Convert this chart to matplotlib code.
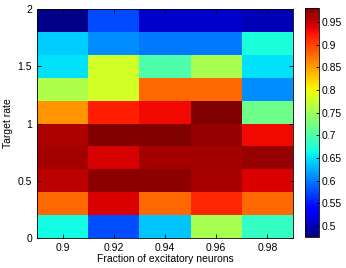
import matplotlib
matplotlib.use('Agg')
import matplotlib.pyplot as plt
import numpy as np

# fraction of excitatory neurons (column centres) and target rate (row edges)
frac = [0.9, 0.92, 0.94, 0.96, 0.98]
rate_edges = [0, 0.2, 0.4, 0.6, 0.8, 1.0, 1.2, 1.4, 1.6, 1.8, 2.0]

# rows from target rate 0.1 (bottom) up to 1.9 (top)
row_01 = [0.665, 0.577, 0.637, 0.755, 0.685]
row_03 = [0.880, 0.940, 0.880, 0.915, 0.880]
row_05 = [0.955, 0.975, 0.975, 0.962, 0.940]
row_07 = [0.965, 0.943, 0.965, 0.965, 0.970]
row_09 = [0.960, 0.980, 0.980, 0.970, 0.930]
row_11 = [0.855, 0.918, 0.930, 0.980, 0.720]
row_13 = [0.760, 0.780, 0.880, 0.880, 0.610]
row_15 = [0.650, 0.780, 0.700, 0.755, 0.650]
row_17 = [0.640, 0.610, 0.600, 0.600, 0.670]
row_19 = [0.480, 0.575, 0.510, 0.510, 0.500]

vals = np.array([row_01, row_03, row_05, row_07, row_09,
                 row_11, row_13, row_15, row_17, row_19])

plt.rcParams['font.family'] = ['Liberation Sans', 'DejaVu Sans']
plt.rcParams['font.size'] = 7.5

fig = plt.figure(figsize=(3.46, 2.68), dpi=100)
ax = fig.add_axes([37/346, 1 - 238/268, 256/346, 229/268])
cax = fig.add_axes([305/346, 1 - 237/268, 14/346, 229/268])

x_edges = [f - 0.01 for f in frac] + [frac[-1] + 0.01]
mesh = ax.pcolormesh(x_edges, rate_edges, vals, cmap='jet', vmin=0.476, vmax=0.981)

ax.set_xlim(0.89, 0.99)
ax.set_ylim(0, 2)
ax.set_xticks(frac)
ax.set_xticklabels(['0.9', '0.92', '0.94', '0.96', '0.98'])
ax.set_yticks([0, 0.5, 1, 1.5, 2])
ax.set_yticklabels(['0', '0.5', '1', '1.5', '2'])
ax.tick_params(direction='in', length=3, width=0.6, top=True, right=True)
ax.set_xlabel('Fraction of excitatory neurons', labelpad=1)
ax.set_ylabel('Target rate', labelpad=3)
for s in ax.spines.values():
    s.set_linewidth(0.6)

cb = fig.colorbar(mesh, cax=cax)
cb.set_ticks([0.5, 0.55, 0.6, 0.65, 0.7, 0.75, 0.8, 0.85, 0.9, 0.95])
cb.set_ticklabels(['0.5', '0.55', '0.6', '0.65', '0.7', '0.75', '0.8', '0.85', '0.9', '0.95'])
cb.ax.tick_params(direction='in', length=2, width=0.6, pad=2)
cb.outline.set_linewidth(0.6)

fig.savefig('out.png', dpi=100)
